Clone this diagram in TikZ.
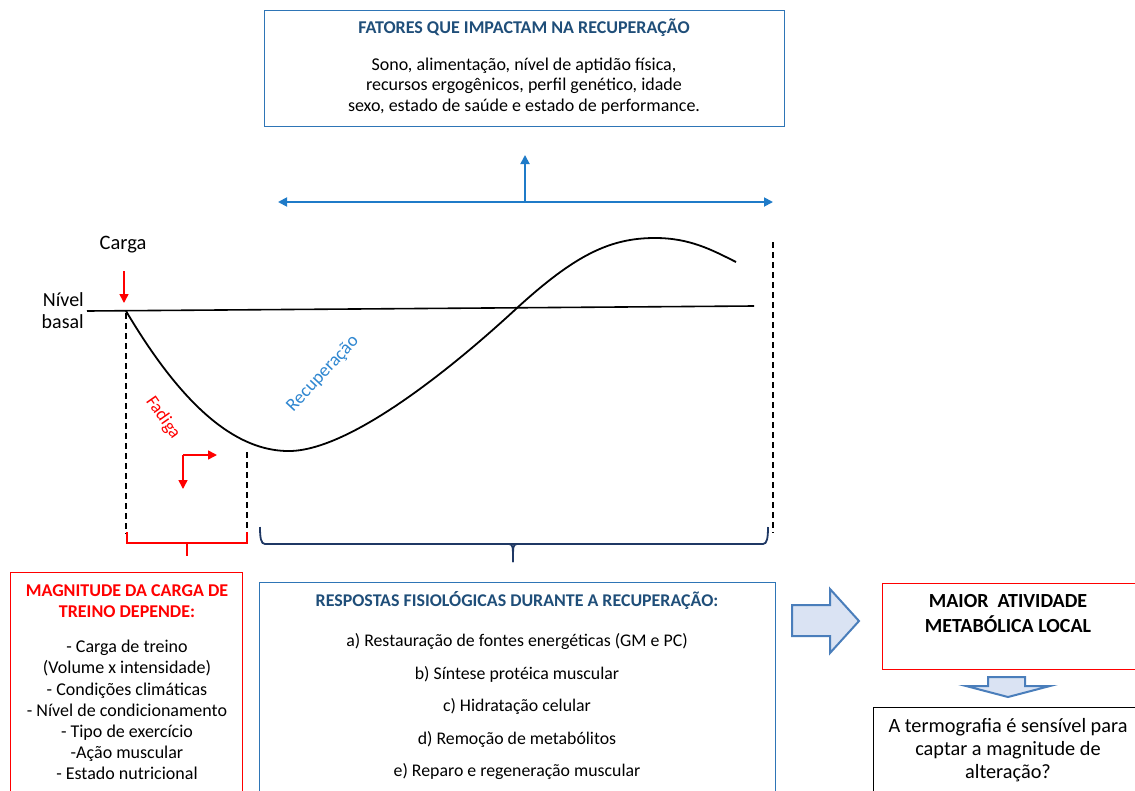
\documentclass[tikz,border=0pt]{standalone}
\usepackage{fontspec}
\setmainfont{Carlito}
\usetikzlibrary{arrows.meta}
\definecolor{boxblue}{HTML}{2E75B6}
\definecolor{titleblue}{HTML}{1F4E79}
\definecolor{arrblue}{HTML}{1F7BC8}
\definecolor{recblue}{HTML}{2E86D0}
\definecolor{navy}{HTML}{1F3864}
\definecolor{fillblue}{HTML}{DAE3F3}
\definecolor{edgeblue}{HTML}{4A7EBB}
\definecolor{red}{HTML}{FF0000}
\tikzset{
  box/.style={draw, line width=1.3pt, minimum width=#1, anchor=north west, inner sep=0pt},
  txt/.style={align=center, inner sep=0pt},
  dashv/.style={draw=black, line width=1.4pt, dash pattern=on 6pt off 4pt},
  barr/.style={draw=arrblue, line width=1.8pt, -{Triangle[length=9pt,width=9pt]}},
  rarr/.style={draw=red, line width=1.6pt, -{Triangle[length=9pt,width=9pt]}},
  blockarrow/.style={draw=edgeblue, fill=fillblue, line width=2pt, line join=miter},
}
\begin{document}
\begin{tikzpicture}[x=1pt,y=-1pt]
\useasboundingbox (0,0) rectangle (1135,790);
% top box
\node[box=520pt, draw=boxblue, minimum height=116pt] (topbox) at (264,10) {};
\node[txt, font=\fontsize{18}{21}\selectfont\bfseries, text=titleblue] (toptitle) at (524,28) {FATORES QUE IMPACTAM NA RECUPERAÇÃO};
\node[txt, font=\fontsize{18}{20.5}\selectfont] (toptext) at (524,86) {Sono, alimentação, nível de aptidão física,\\recursos ergogênicos, perfil genético, idade\\sexo, estado de saúde e estado de performance.};
% blue arrows
\coordinate (hl) at (278,202);
\coordinate (hr) at (773,202);
\coordinate (hm) at (525,202);
\coordinate (hu) at (525,155);
\draw[barr, {Triangle[length=9pt,width=9pt]}-{Triangle[length=9pt,width=9pt]}] (hl) -- (hr);
\draw[barr] (hm) -- (hu);
% labels
\node[txt, font=\fontsize{20.5}{24}\selectfont] (carga) at (123,245) {Carga};
\node[txt, font=\fontsize{20}{22}\selectfont, anchor=east, align=right] (nivel) at (84,311) {Nível\\basal};
\coordinate (cargatop) at (124,271);
\coordinate (start) at (126,311);
\draw[rarr] (cargatop) -- (124,303);
% baseline
\coordinate (bl) at (87,311);
\coordinate (br) at (754,306);
\draw[line width=1.6pt] (bl) -- (br);
% curve
\draw[line width=1.8pt] (start) .. controls (170,385) and (225,452) .. (290,451)
  .. controls (350,450) and (450,370) .. (517,308)
  .. controls (575,255) and (610,238) .. (655,238)
  .. controls (690,238) and (712,250) .. (736,262);
% dashed
\draw[dashv] (126,313) -- (126,534);
\draw[dashv] (247,452) -- (247,530);
\draw[dashv] (773,242) -- (773,533);
% rotated labels
\node[txt, font=\fontsize{18}{21}\selectfont, text=red, rotate=-55] (fadiga) at (163,418) {Fadiga};
\node[txt, font=\fontsize{18.5}{21}\selectfont, text=recblue, rotate=47] (recup) at (323,374) {Recuperação};
% red corner arrows
\coordinate (corner) at (183,455);
\draw[rarr] (corner) -- (217,455);
\draw[rarr] (corner) -- (183,489);
% brackets
\draw[red, line width=1.5pt] (127,532) -- (127,543) -- (247,543) -- (247,532);
\draw[red, line width=1.5pt] (187,543) -- (187,556);
\draw[navy, line width=1.8pt] (260,527) .. controls (260,538) and (261,544) .. (265,544) -- (763,544) .. controls (767,544) and (768,538) .. (768,527);
\draw[navy, line width=1.8pt] (509,544) .. controls (513,545) .. (513,562);
\draw[navy, line width=1.8pt] (517,544) .. controls (513,545) .. (513,562);
% bottom left box
\node[box=232pt, draw=red, minimum height=230pt] (redbox) at (10,572) {};
\node[txt, font=\fontsize{18}{21.5}\selectfont\bfseries, text=red] (redtitle) at (127,601) {MAGNITUDE DA CARGA DE\\TREINO DEPENDE:};
\node[txt, font=\fontsize{18}{21.1}\selectfont] (redtext) at (127,710) {- Carga de treino\\(Volume x intensidade)\\- Condições climáticas\\- Nível de condicionamento\\- Tipo de exercício\\-Ação muscular\\- Estado nutricional};
% middle box
\node[box=516pt, draw=boxblue, minimum height=220pt] (midbox) at (259,582) {};
\node[txt, font=\fontsize{17.9}{21}\selectfont\bfseries, text=titleblue] (midtitle) at (517,600) {RESPOSTAS FISIOLÓGICAS DURANTE A RECUPERAÇÃO:};
\node[txt, font=\fontsize{17.8}{32.5}\selectfont] (midtext) at (517,707) {a) Restauração de fontes energéticas (GM e PC)\\b) Síntese protéica muscular\\c) Hidratação celular\\d) Remoção de metabólitos\\e) Reparo e regeneração muscular};
% block arrow right
\draw[blockarrow] (792,605) -- (830,605) -- (830,589) -- (859,621) -- (830,653) -- (830,636) -- (792,636) -- cycle;
% right red box
\node[box=270pt, draw=red, minimum height=86pt] (metbox) at (882,583) {};
\node[txt, font=\fontsize{20}{25}\selectfont\bfseries] (mettext) at (1008,614) {MAIOR\ \ ATIVIDADE\\METABÓLICA LOCAL};
% down block arrow
\draw[blockarrow] (988,677) -- (1025,677) -- (1025,686) -- (1050,686) -- (1008,697) -- (966,686) -- (988,686) -- cycle;
% black box
\node[box=270pt, draw=black, minimum height=100pt] (termbox) at (873,707) {};
\node[txt, font=\fontsize{20.3}{23}\selectfont] (termtext) at (1008,750) {A termografia é sensível para\\captar a magnitude de\\alteração?};
\end{tikzpicture}
\end{document}
